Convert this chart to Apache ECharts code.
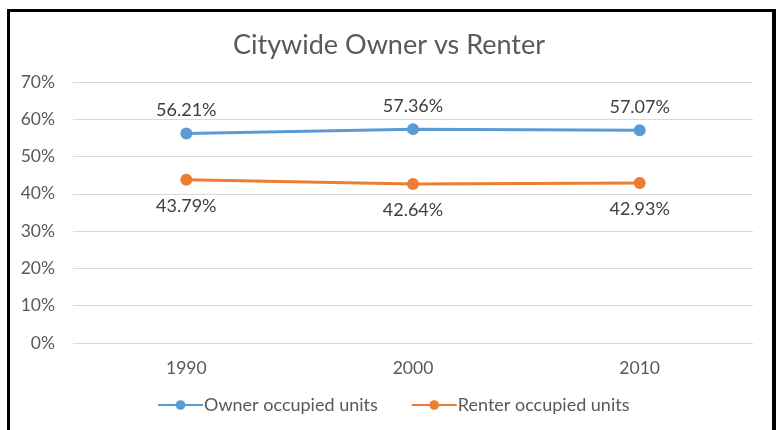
<!DOCTYPE html>
<html><head><meta charset="utf-8">
<script src="https://cdn.jsdelivr.net/npm/echarts@6/dist/echarts.min.js"></script>
<style>
html,body{margin:0;padding:0;background:#fff;}
#c{width:778px;height:430px;position:absolute;left:0;top:0;}
#b{position:absolute;left:7px;top:9px;width:762px;height:440px;border-left:3px solid #000;border-top:3px solid #000;border-right:4px solid #000;pointer-events:none;}
</style></head>
<body>
<div id="c"></div><div id="b"></div>
<script>
const categories = ['1990', '2000', '2010'];
const ownerValues = [56.21, 57.36, 57.07];
const renterValues = [43.79, 42.64, 42.93];
const seriesNames = ['Owner occupied units', 'Renter occupied units'];
const titleText = 'Citywide Owner vs Renter';

const chart = echarts.init(document.getElementById('c'), null, {renderer: 'canvas'});
const font = 'Lato, "Open Sans", sans-serif';
chart.setOption({
  animation: false,
  title: {text: titleText, left: 'center', top: 27, textStyle: {fontFamily: font, fontSize: 27, fontWeight: 'normal', color: '#595959'}},
  grid: {left: 73, right: 25, top: 82, bottom: 87},
  legend: {bottom: 11, left: 152, itemWidth: 45, itemHeight: 12, itemGap: 33, textStyle: {fontFamily: font, fontSize: 18, color: '#595959', padding: [0,0,0,-4]}, data: seriesNames},
  xAxis: {type: 'category', data: categories, boundaryGap: true,
    axisLine: {show: false}, axisTick: {show: false},
    axisLabel: {fontFamily: font, fontSize: 17.5, color: '#595959', margin: 16}},
  yAxis: {type: 'value', min: 0, max: 70, interval: 10,
    axisLine: {show: false}, axisTick: {show: false},
    splitLine: {lineStyle: {color: '#d9d9d9', width: 1}},
    axisLabel: {fontFamily: font, fontSize: 17.5, color: '#595959', margin: 18, formatter: v => v + '%'}},
  series: [
    {name: seriesNames[0], type: 'line', data: ownerValues, symbol: 'circle', symbolSize: 12,
     lineStyle: {width: 3, color: '#5B9BD5'}, itemStyle: {color: '#5B9BD5'},
     label: {show: true, position: 'top', distance: 8, fontFamily: font, fontSize: 18, color: '#404040', formatter: p => p.value.toFixed(2) + '%'}},
    {name: seriesNames[1], type: 'line', data: renterValues, symbol: 'circle', symbolSize: 12,
     lineStyle: {width: 3, color: '#ED7D31'}, itemStyle: {color: '#ED7D31'},
     label: {show: true, position: 'bottom', distance: 11, fontFamily: font, fontSize: 18, color: '#404040', formatter: p => p.value.toFixed(2) + '%'}}
  ]
});
</script>
</body></html>
